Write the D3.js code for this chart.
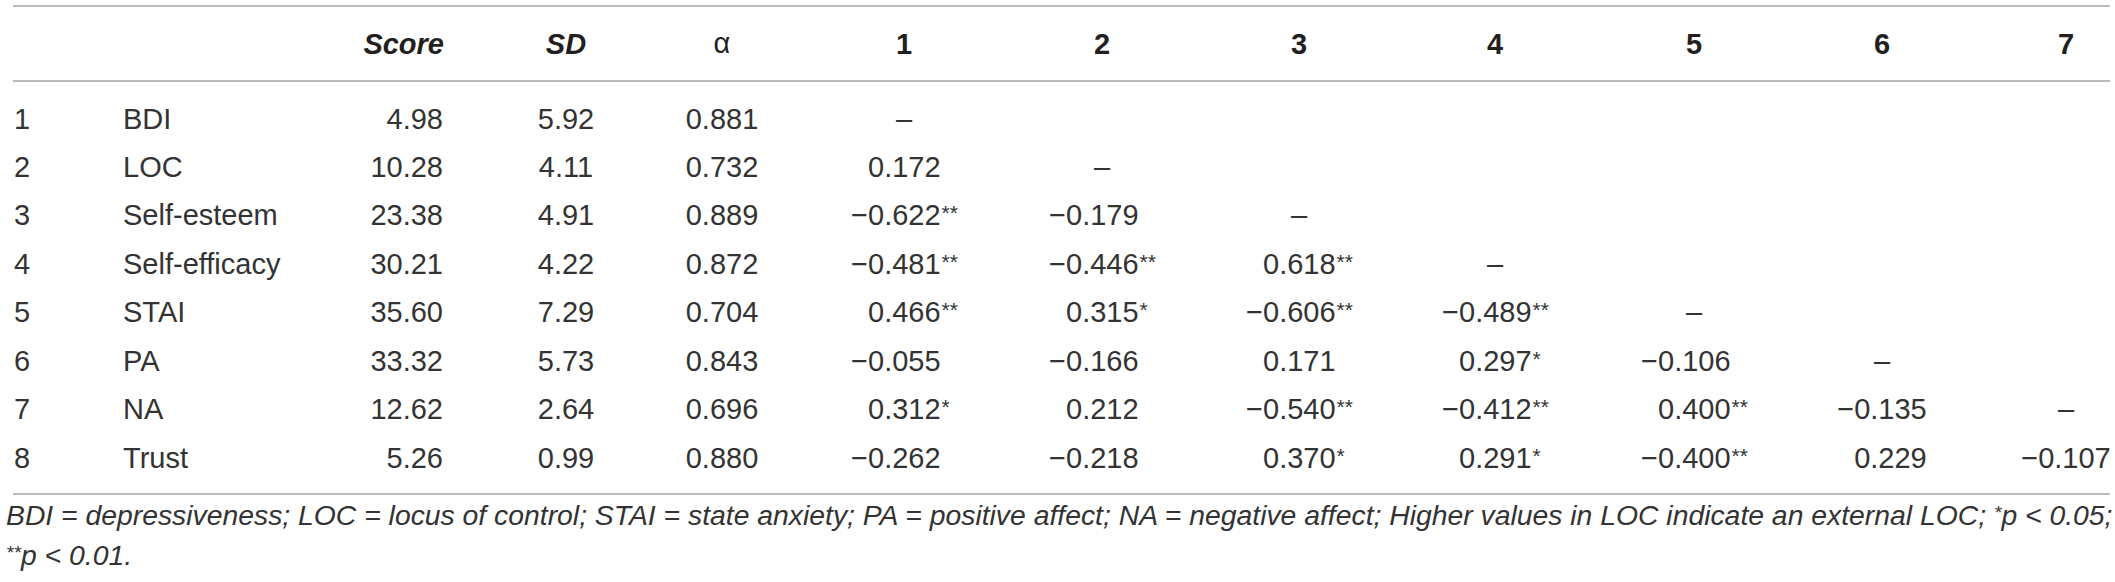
<!DOCTYPE html>
<html>
<head>
<meta charset="utf-8">
<script src="https://cdn.jsdelivr.net/npm/d3@7"></script>
<style>
  body { margin: 0; background: #fff; }
</style>
</head>
<body>
<div id="table"></div>
<script>
var rowIds = [1, 2, 3, 4, 5, 6, 7, 8];
var variables = ['BDI', 'LOC', 'Self-esteem', 'Self-efficacy', 'STAI', 'PA', 'NA', 'Trust'];
var scores = [4.98, 10.28, 23.38, 30.21, 35.60, 33.32, 12.62, 5.26];
var sds = [5.92, 4.11, 4.91, 4.22, 7.29, 5.73, 2.64, 0.99];
var alphas = [0.881, 0.732, 0.889, 0.872, 0.704, 0.843, 0.696, 0.880];
var corrHeaders = ['1', '2', '3', '4', '5', '6', '7'];
// lower triangle, row i holds correlations with variables 1..i-1
var corrs = [
  [],
  [0.172],
  [-0.622, -0.179],
  [-0.481, -0.446, 0.618],
  [0.466, 0.315, -0.606, -0.489],
  [-0.055, -0.166, 0.171, 0.297, -0.106],
  [0.312, 0.212, -0.540, -0.412, 0.400, -0.135],
  [-0.262, -0.218, 0.370, 0.291, -0.400, 0.229, -0.107]
];
// number of significance stars per cell
var stars = [
  [],
  [0],
  [2, 0],
  [2, 2, 2],
  [2, 1, 2, 2],
  [0, 0, 0, 1, 0],
  [1, 0, 2, 2, 2, 0],
  [0, 0, 1, 1, 2, 0, 0]
];
var footLines = [
  'BDI = depressiveness; LOC = locus of control; STAI = state anxiety; PA = positive affect; NA = negative affect; Higher values in LOC indicate an external LOC; *p < 0.05;',
  '**p < 0.01.'
];

(function() {
  var W = 2115, H = 582;
  var FONT = '"Liberation Sans", Arial, Helvetica, sans-serif';
  var FS = 29, TXT = '#231f20', BODY = '#333', RULE = '#a3a3a3';

  var svg = d3.select('#table').append('svg').attr('width', W).attr('height', H)
    .style('font-family', FONT);
  svg.append('rect').attr('width', W).attr('height', H).attr('fill', '#fff');

  // layout scales
  var y = d3.scaleLinear().domain([0, rowIds.length - 1]).range([118, 457]);
  var colX = d3.scaleOrdinal().domain(corrHeaders).range([904, 1102, 1299, 1495, 1694, 1882, 2066]);
  var headY = 43, base = 10.5;
  var f2 = d3.format('.2f'), f3 = d3.format('.3f');

  // rules
  [6, 81, 494].forEach(function(ly) {
    svg.append('line').attr('x1', 13).attr('x2', 2110).attr('y1', ly).attr('y2', ly)
      .attr('stroke', RULE).attr('stroke-width', 1.6);
  });

  // header
  var hd = svg.append('g').attr('font-size', FS).attr('font-weight', 'bold').attr('fill', TXT);
  hd.append('text').attr('x', 444).attr('y', headY + base).attr('text-anchor', 'end')
    .attr('font-style', 'italic').text('Score');
  hd.append('text').attr('x', 566).attr('y', headY + base).attr('text-anchor', 'middle')
    .attr('font-style', 'italic').text('SD');
  hd.append('text').attr('x', 722).attr('y', headY + base - 1).attr('text-anchor', 'middle')
    .attr('font-weight', 'normal').text('\u03b1');
  hd.selectAll('text.ch').data(corrHeaders).join('text').attr('class', 'ch')
    .attr('x', function(d) { return colX(d); }).attr('y', headY + base)
    .attr('text-anchor', 'middle').text(function(d) { return d; });

  // body
  var body = svg.append('g').attr('font-size', FS).attr('fill', BODY).attr('font-weight', 300);
  body.selectAll('text.id').data(rowIds).join('text').attr('class', 'id')
    .attr('x', 14).attr('y', function(d, i) { return y(i) + base; }).text(function(d) { return d; });
  body.selectAll('text.var').data(variables).join('text').attr('class', 'var')
    .attr('x', 123).attr('y', function(d, i) { return y(i) + base; }).text(function(d) { return d; });
  body.selectAll('text.score').data(scores).join('text').attr('class', 'score')
    .attr('x', 443).attr('y', function(d, i) { return y(i) + base; }).attr('text-anchor', 'end')
    .text(function(d) { return f2(d); });
  body.selectAll('text.sd').data(sds).join('text').attr('class', 'sd')
    .attr('x', 566).attr('y', function(d, i) { return y(i) + base; }).attr('text-anchor', 'middle')
    .text(function(d) { return f2(d); });
  body.selectAll('text.alpha').data(alphas).join('text').attr('class', 'alpha')
    .attr('x', 722).attr('y', function(d, i) { return y(i) + base; }).attr('text-anchor', 'middle')
    .text(function(d) { return f3(d); });

  // correlation cells, decimal aligned and centred per column
  var cells = [];
  corrs.forEach(function(row, i) {
    row.forEach(function(v, j) { cells.push({ r: i, c: j, v: v, s: stars[i][j] }); });
  });
  var numT = body.selectAll('text.num').data(cells).join('text').attr('class', 'num')
    .attr('y', function(d) { return y(d.r) + base; }).attr('text-anchor', 'end')
    .text(function(d) { return f3(d.v); });
  var starT = body.selectAll('text.star').data(cells.filter(function(d) { return d.s > 0; })).join('text')
    .attr('class', 'star').attr('font-size', 21)
    .attr('y', function(d) { return y(d.r) + base - 5; })
    .text(function(d) { return d.s === 2 ? '**' : '*'; });

  var numW = {}, starW = {};
  numT.each(function(d) { numW[d.c] = Math.max(numW[d.c] || 0, this.getComputedTextLength()); });
  starT.each(function(d) { starW[d.c] = Math.max(starW[d.c] || 0, this.getComputedTextLength()); });
  function rightEdge(c) {
    var n = numW[c] || 0, s = starW[c] || 0;
    return colX(corrHeaders[c]) - (n + s) / 2 + n;
  }
  numT.attr('x', function(d) { return rightEdge(d.c); });
  starT.attr('x', function(d) { return rightEdge(d.c) + 1; });

  // diagonal dashes
  body.selectAll('text.dash').data(rowIds.slice(0, corrHeaders.length)).join('text').attr('class', 'dash')
    .attr('x', function(d, i) { return colX(corrHeaders[i]); })
    .attr('y', function(d, i) { return y(i) + base; })
    .attr('text-anchor', 'middle').text('\u2013');

  // footnote, asterisks raised and smaller
  var foot = svg.append('g').attr('font-style', 'italic').attr('fill', BODY).attr('font-weight', 300);
  var footY = [525, 565];
  var FN = 28, FNS = 19, RISE = 6;
  footLines.forEach(function(line, k) {
    var t = foot.append('text').attr('x', 6).attr('y', footY[k]);
    var shift = 0;
    line.split(/(\*+)/).filter(function(p) { return p.length; }).forEach(function(p) {
      var isStar = /^\*+$/.test(p);
      var target = isStar ? -RISE : 0;
      t.append('tspan').attr('class', isStar ? 'fs' : 'ft')
        .attr('dy', target - shift).text(p);
      shift = target;
    });
  });
  // fit the first line to the table width
  function sizeFoot(s) {
    foot.selectAll('tspan.ft').attr('font-size', FN * s);
    foot.selectAll('tspan.fs').attr('font-size', FNS * s);
  }
  sizeFoot(1);
  var sc = 2107 / foot.select('text').node().getComputedTextLength();
  sizeFoot(sc);
})();
</script>
</body>
</html>
